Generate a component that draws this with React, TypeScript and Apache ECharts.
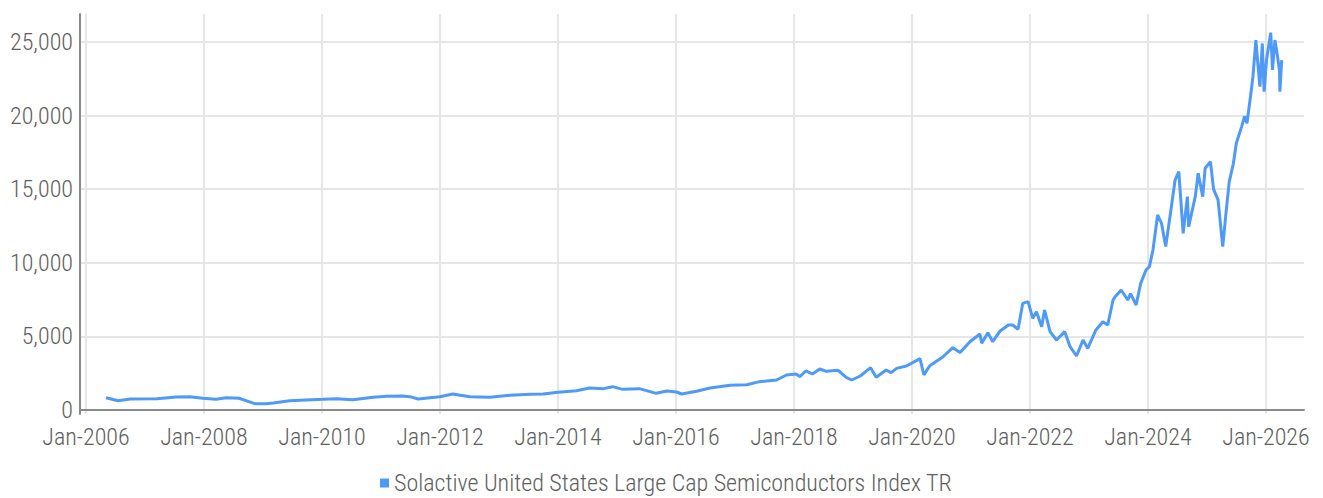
import React, { useEffect, useRef } from "react";
import * as echarts from "echarts";

const seriesName = "Solactive United States Large Cap Semiconductors Index TR";

const dates: string[] = [
  "2006-05-05", "2006-07-20", "2006-10-01", "2007-03-15", "2007-07-15", "2007-10-05", "2007-12-25",
  "2008-03-15", "2008-05-20", "2008-08-05", "2008-11-10", "2009-01-20", "2009-03-05", "2009-06-15",
  "2009-09-25", "2010-01-05", "2010-04-01", "2010-07-10", "2010-11-15", "2011-02-05", "2011-05-15",
  "2011-06-28", "2011-08-20", "2012-01-01", "2012-03-20", "2012-07-05", "2012-11-05", "2013-03-10",
  "2013-07-12", "2013-10-01", "2014-01-01", "2014-04-25", "2014-07-15", "2014-10-10", "2014-12-05",
  "2015-02-05", "2015-05-20", "2015-09-01", "2015-11-05", "2016-01-05", "2016-02-05", "2016-05-08",
  "2016-07-30", "2016-12-01", "2017-03-15", "2017-06-01", "2017-09-15", "2017-11-15", "2018-01-15",
  "2018-02-06", "2018-03-15", "2018-04-25", "2018-06-10", "2018-07-20", "2018-10-01", "2018-11-20",
  "2018-12-24", "2019-02-15", "2019-04-20", "2019-05-25", "2019-07-25", "2019-08-25", "2019-09-28",
  "2019-11-28", "2020-02-20", "2020-03-15", "2020-04-20", "2020-07-10", "2020-09-10", "2020-10-25",
  "2020-12-25", "2021-02-25", "2021-03-08", "2021-04-15", "2021-05-15", "2021-06-28", "2021-08-20",
  "2021-09-16", "2021-10-19", "2021-11-17", "2021-12-20", "2022-01-18", "2022-02-10", "2022-03-14",
  "2022-04-01", "2022-05-05", "2022-06-14", "2022-08-04", "2022-09-06", "2022-10-16", "2022-11-25",
  "2022-12-24", "2023-02-13", "2023-03-28", "2023-04-27", "2023-05-30", "2023-06-12", "2023-07-19",
  "2023-08-29", "2023-09-15", "2023-10-20", "2023-11-17", "2023-12-20", "2024-01-10", "2024-02-01",
  "2024-03-01", "2024-03-25", "2024-04-20", "2024-05-25", "2024-06-17", "2024-07-10", "2024-08-06",
  "2024-09-01", "2024-09-09", "2024-10-20", "2024-11-07", "2024-12-05", "2024-12-20", "2025-01-22",
  "2025-02-10", "2025-03-10", "2025-04-08", "2025-04-27", "2025-05-18", "2025-06-13", "2025-07-01",
  "2025-08-03", "2025-08-21", "2025-09-05", "2025-09-24", "2025-10-12", "2025-10-30", "2025-11-13",
  "2025-11-24", "2025-12-09", "2025-12-20", "2026-01-04", "2026-01-30", "2026-02-10", "2026-02-25",
  "2026-03-10", "2026-03-25", "2026-03-28", "2026-04-08",
];

const values: number[] = [
  836, 632, 747, 770, 883, 900, 795,
  725, 836, 795, 430, 430, 470, 632,
  680, 725, 770, 700, 860, 930, 950,
  906, 750, 906, 1087, 906, 860, 997,
  1065, 1087, 1200, 1313, 1495, 1450, 1585,
  1404, 1450, 1132, 1290, 1223, 1087, 1268,
  1495, 1675, 1720, 1925, 2038, 2378, 2445,
  2264, 2650, 2445, 2785, 2627, 2694, 2220,
  2038, 2310, 2875, 2220, 2717, 2537, 2830,
  2990, 3487, 2378, 3010, 3600, 4232, 3900,
  4640, 5163, 4530, 5254, 4640, 5345, 5774,
  5774, 5480, 7245, 7360, 6226, 6680, 5660,
  6793, 5320, 4755, 5320, 4300, 3668, 4755,
  4190, 5435, 6000, 5770, 7470, 7700, 8150,
  7470, 7900, 7130, 8600, 9510, 9735, 10870,
  13250, 12680, 11100, 13810, 15620, 16190, 12000,
  14490, 12450, 14490, 16080, 14490, 16420, 16870,
  15000, 14270, 11100, 13250, 15500, 16760, 18120,
  19250, 19950, 19480, 21060, 22640, 25130, 23320,
  21960, 24900, 21620, 23770, 25630, 23100, 25130,
  24230, 23100, 21620, 23770,
];

const yTicks: number[] = [0, 5000, 10000, 15000, 20000, 25000];
const xTickYears: number[] = [2006, 2008, 2010, 2012, 2014, 2016, 2018, 2020, 2022, 2024, 2026];

const FONT = "'Roboto Condensed', 'Liberation Sans Narrow', 'DejaVu Sans Condensed', 'Roboto', sans-serif";
const TEXT_COLOR = "#5e5e5e";

export default function App() {
  const ref = useRef<HTMLDivElement>(null);

  useEffect(() => {
    document.body.style.margin = "0";
    if (!ref.current) return;
    const chart = echarts.init(ref.current, undefined, { renderer: "svg" });
    const data = dates.map((d, i) => [Date.parse(d + "T00:00:00Z"), values[i]]);
    const xTicks = xTickYears.map((y) => Date.UTC(y, 0, 1));

    chart.setOption({
      animation: false,
      grid: { left: 80, right: 19, top: 14, bottom: 84, containLabel: false },
      xAxis: {
        type: "value",
        min: Date.UTC(2005, 10, 25),
        max: Date.UTC(2026, 7, 24),
        axisLine: { show: true, lineStyle: { color: "#8a8a8a", width: 2 } },
        axisTick: { show: false, customValues: xTicks },
        axisLabel: {
          customValues: xTicks,
          formatter: (v: number) => "Jan-" + new Date(v).getUTCFullYear(),
          color: TEXT_COLOR,
          fontSize: 24,
          fontWeight: 300,
          fontFamily: FONT,
          margin: 11,
          showMinLabel: true,
          showMaxLabel: true,
        },
        splitLine: { show: true, lineStyle: { color: "#e6e6e6", width: 2 } },
      },
      yAxis: {
        type: "value",
        min: -272,
        max: 26900,
        axisLine: { show: true, lineStyle: { color: "#8a8a8a", width: 2 } },
        axisTick: { show: false, customValues: yTicks },
        axisLabel: {
          customValues: yTicks,
          formatter: (v: number) => Math.round(v).toLocaleString("en-US"),
          color: TEXT_COLOR,
          fontSize: 24,
          fontWeight: 300,
          fontFamily: FONT,
          margin: 7,
        },
        splitLine: { show: true, lineStyle: { color: "#e6e6e6", width: 2 } },
      },
      legend: {
        top: 466,
        left: 375,
        icon: "rect",
        itemWidth: 9,
        itemHeight: 9,
        itemGap: 5,
        textStyle: { color: TEXT_COLOR, fontSize: 24, fontWeight: 300, fontFamily: FONT },
        data: [seriesName],
      },
      series: [
        {
          name: seriesName,
          type: "line",
          data,
          showSymbol: false,
          lineStyle: { color: "#4e9af8", width: 3 },
          itemStyle: { color: "#4e9af8" },
        },
      ],
    });

    return () => chart.dispose();
  }, []);

  return <div ref={ref} style={{ width: 1323, height: 498 }} />;
}
